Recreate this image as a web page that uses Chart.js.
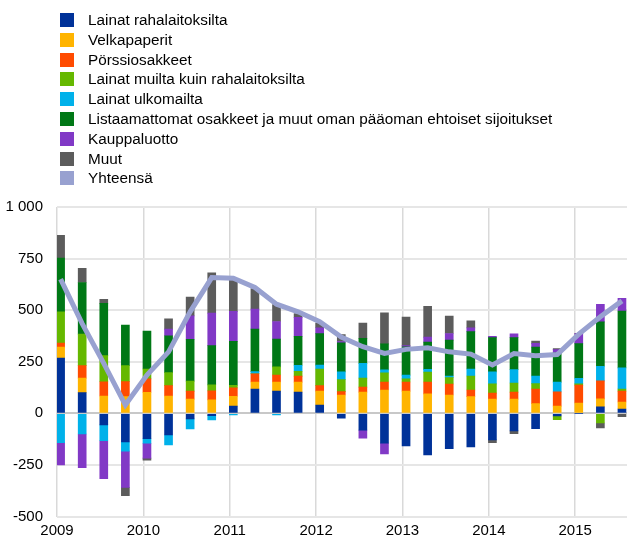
<!DOCTYPE html>
<html>
<head>
<meta charset="utf-8">
<script src="https://cdn.jsdelivr.net/npm/chart.js@4"></script>
<style>
  body { margin: 0; background: #fff; font-family: "Liberation Sans", Arial, sans-serif; }
  #wrap { position: relative; width: 630px; height: 542px; }
  #chart { position: absolute; left: 0; top: 0; }
  #legend { position: absolute; left: 60px; top: 10px; color: #000; }
  #legend div { height: 19.8px; line-height: 19.8px; font-size: 15.3px; white-space: nowrap; }
  #legend span { display: inline-block; width: 14px; height: 14px; margin-right: 14px; vertical-align: -2px; }
</style>
</head>
<body>
<div id="wrap">
  <canvas id="chart" width="630" height="542"></canvas>
  <div id="legend"></div>
</div>
<script>
const quarters = ['2009Q1','2009Q2','2009Q3','2009Q4','2010Q1','2010Q2','2010Q3','2010Q4',
  '2011Q1','2011Q2','2011Q3','2011Q4','2012Q1','2012Q2','2012Q3','2012Q4',
  '2013Q1','2013Q2','2013Q3','2013Q4','2014Q1','2014Q2','2014Q3','2014Q4',
  '2015Q1','2015Q2','2015Q3'];

const lainatRaha   = [268, 100, -56, -139, -123, -105, -27, -11, 35, 118, 108, 103, 40, -23, -81, -144, -158, -202, -171, -163, -129, -85, -74, -13, 0, 31, 21];
const velkapaperit = [53, 71, 84, 81, 102, 84, 69, 65, 48, 34, 44, 48, 68, 89, 103, 113, 108, 94, 89, 81, 69, 69, 47, 35, 50, 39, 34];
const porssi       = [19, 60, 69, 73, 65, 50, 39, 44, 40, 40, 34, 29, 26, 16, 24, 39, 44, 58, 53, 32, 29, 34, 71, 69, 87, 87, 53];
const lainatMuilta = [152, 153, 127, 77, 48, 63, 48, 29, 13, 0, 39, 24, 81, 58, 44, 44, 15, 48, 31, 68, 45, 44, 26, -18, 6, -47, 10];
const lainatUlko   = [-142, -100, -77, -44, -22, -48, -48, -21, -8, 10, -8, 29, 19, 38, 71, 15, 18, 13, 8, 34, 58, 65, 37, 47, 27, 71, 102];
const listaamatt   = [261, 250, 253, 197, 184, 179, 203, 190, 213, 206, 135, 140, 152, 141, 121, 126, 137, 132, 174, 181, 166, 155, 140, 142, 168, 215, 276];
const kauppaluotto = [-108, -163, -184, -176, -72, 32, 113, 158, 145, 97, 85, 92, 29, 6, -39, -53, 6, 24, 32, 18, 6, 18, 18, 16, 48, 85, 61];
const muut         = [110, 69, 19, -40, -10, 50, 92, 195, 150, 100, 82, 18, 21, 34, 74, 150, 139, 150, 84, 34, -13, -13, 11, 5, 0, -24, -16];
const yhteensa     = [650, 435, 242, 40, 185, 298, 492, 658, 655, 610, 529, 492, 444, 370, 323, 290, 310, 318, 298, 287, 234, 290, 279, 285, 384, 468, 545];

// quarter -> decimal year (first month middle)
function qx(q) {
  return +q.slice(0, 4) + (+q.slice(5) - 1) / 4 + 1 / 24;
}
function pts(vals) {
  return vals.map((v, i) => ({ x: qx(quarters[i]), y: v }));
}

const series = [
  ['Lainat rahalaitoksilta', lainatRaha, '#003299'],
  ['Velkapaperit', velkapaperit, '#ffb400'],
  ['Pörssiosakkeet', porssi, '#ff4b00'],
  ['Lainat muilta kuin rahalaitoksilta', lainatMuilta, '#65b800'],
  ['Lainat ulkomailta', lainatUlko, '#00b1ea'],
  ['Listaamattomat osakkeet ja muut oman pääoman ehtoiset sijoitukset', listaamatt, '#007816'],
  ['Kauppaluotto', kauppaluotto, '#8139c6'],
  ['Muut', muut, '#5c5c5c']
];

const datasets = series.map(s => ({
  type: 'bar',
  label: s[0],
  data: pts(s[1]),
  backgroundColor: s[2],
  barThickness: 8,
  order: 1
}));
datasets.push({
  type: 'line',
  label: 'Yhteensä',
  data: pts(yhteensa),
  borderColor: '#98a1d0',
  backgroundColor: '#98a1d0',
  borderWidth: 5,
  pointRadius: 0,
  tension: 0,
  order: 0
});

// legend as plain html list
const legend = document.getElementById('legend');
datasets.forEach(d => {
  const row = document.createElement('div');
  row.innerHTML = '<span style="background:' + d.backgroundColor + '"></span>' + d.label;
  legend.appendChild(row);
});

function fmt(v) {
  return String(v).replace(/\B(?=(\d{3})+(?!\d))/g, ' ');
}

new Chart(document.getElementById('chart').getContext('2d'), {
  data: { datasets: datasets },
  options: {
    responsive: false,
    animation: false,
    layout: { padding: { top: 207, right: 3, left: 0, bottom: 0 } },
    plugins: {
      legend: { display: false },
      tooltip: { enabled: false }
    },
    scales: {
      x: {
        type: 'linear',
        min: 2009,
        max: 2015.6,
        offset: false,
        stacked: true,
        border: { display: false },
        grid: { color: '#d9d9d9', lineWidth: 1.5, drawTicks: false, offset: false },
        ticks: {
          stepSize: 1,
          includeBounds: false,
          padding: 5,
          color: '#000',
          font: { size: 15, family: '"Liberation Sans", Arial' },
          callback: v => String(v)
        },
        afterFit: s => { s.height = 25.5; }
      },
      y: {
        stacked: true,
        min: -500,
        max: 1000,
        border: { display: false },
        grid: {
          color: c => c.tick && c.tick.value === 0 ? '#c8c8c8' : '#e6e6e6',
          lineWidth: 2,
          drawTicks: false
        },
        ticks: {
          stepSize: 250,
          padding: 14,
          color: '#000',
          font: { size: 15, family: '"Liberation Sans", Arial' },
          callback: v => fmt(v)
        },
        afterFit: s => { s.width = 57; }
      }
    }
  }
});
</script>
</body>
</html>
